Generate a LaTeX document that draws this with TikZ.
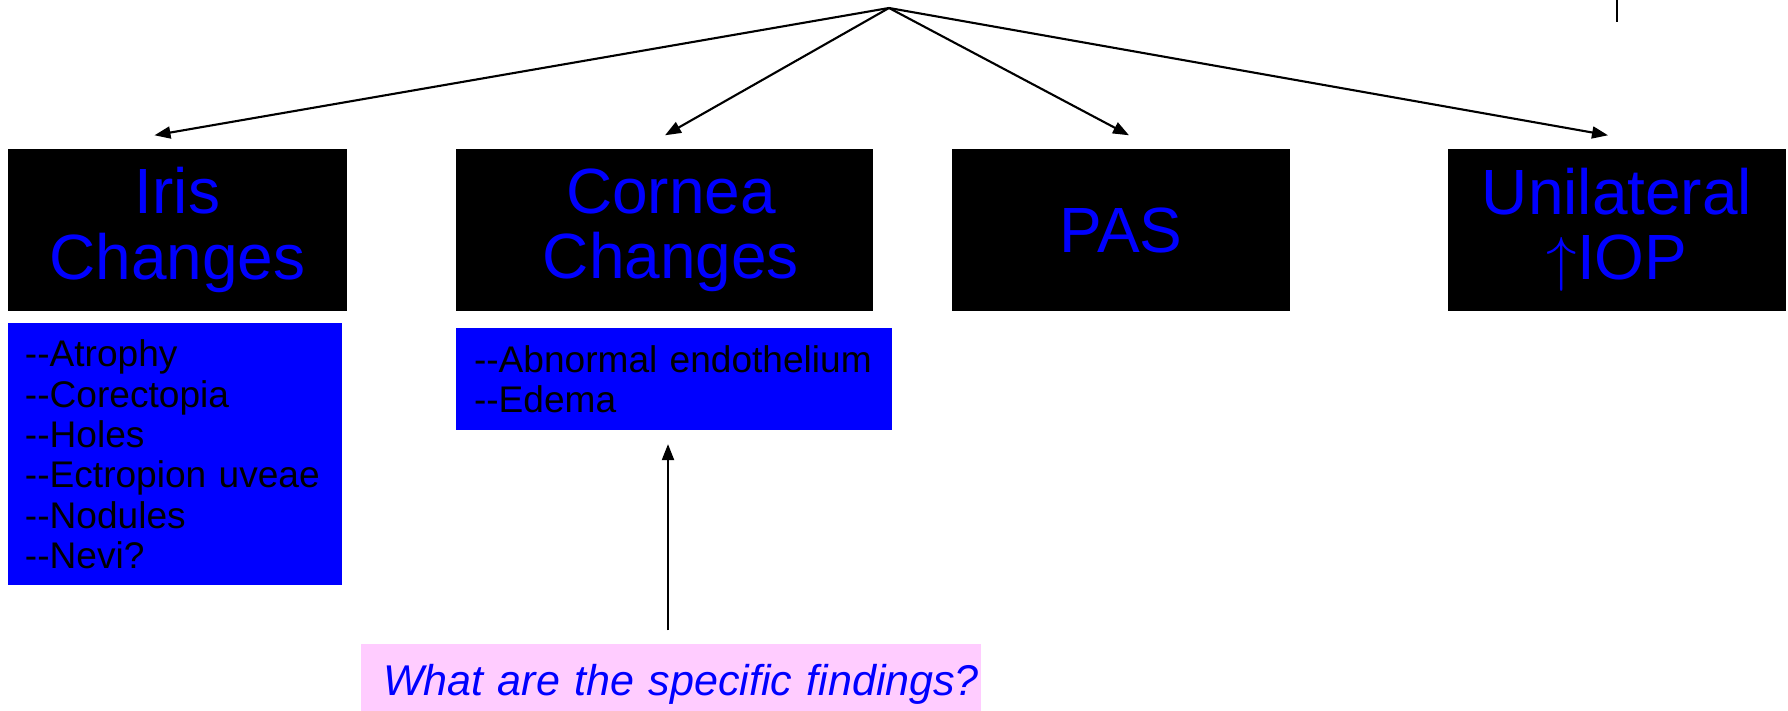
\documentclass[tikz,border=0pt]{standalone}
\usepackage{fontspec}
\setmainfont{Liberation Sans}
\usepackage{tikz}
\usetikzlibrary{arrows.meta,positioning}
\definecolor{askpink}{RGB}{255,204,255}
\newcommand{\twodash}{-\kern0pt-}

\begin{document}
\begin{tikzpicture}[
  head/.style={rectangle, fill=black, inner sep=0pt, minimum width=3.38cm, minimum height=1.62cm, align=center, text=blue, font=\fontsize{18.2}{18.6}\selectfont},
  list/.style={rectangle, fill=blue, inner xsep=0.18cm, inner ysep=0pt, text=black, align=left, font=\fontsize{10.55}{11.5}\selectfont},
  ask/.style={rectangle, fill=askpink, inner xsep=0.02cm, inner ysep=0pt, text width=6.16cm, align=right, text height=0.51cm, text depth=0.16cm, text=blue, font=\fontsize{12.25}{13}\selectfont\itshape},
  arr/.style={-{Triangle[length=1.6mm,width=1.2mm]}, line width=0.6pt},
  node distance=0.11cm
]
\useasboundingbox (0,0) rectangle (17.88,-7.11);

\coordinate (top) at (8.89,-0.08);

\node[head] (iris) at (1.775,-2.30) {Iris\\Changes};
\node[head, minimum width=4.17cm] (cornea) at (6.645,-2.30) {\hspace*{0.13cm}Cornea\\\hspace*{0.13cm}Changes};
\node[head] (pas) at (11.21,-2.30) {PAS};
\node[head] (uni) at (16.17,-2.30) {Unilateral\\$\uparrow$IOP};

\node[list, inner xsep=0.165cm, text width=3.0cm, minimum height=2.62cm, below=0.11cm of iris.south west, anchor=north west] (irislist)
  {\twodash Atrophy\\\twodash Corectopia\\\twodash Holes\\\twodash Ectropion uveae\\\twodash Nodules\\\twodash Nevi?};
\node[list, text width=4.0cm, minimum height=1.02cm, below=0.16cm of cornea.south west, anchor=north west] (corlist)
  {\twodash Abnormal endothelium\\\twodash Edema};

\node[ask] (q) at (6.71,-6.775) {What are the specific findings?};

\foreach \n/\dx in {iris/-0.23, cornea/0.005, pas/0.08, uni/-0.09}
  \draw[arr] (top) -- ([xshift=\dx cm, yshift=0.13cm]\n.north);

\draw[arr] ([xshift=-0.03cm,yshift=0.13cm]q.north) -- ([xshift=-0.03cm,yshift=-0.13cm]q.north |- corlist.south);

\draw[line width=0.6pt] (16.17,0) -- (16.17,-0.22);

\end{tikzpicture}
\end{document}
